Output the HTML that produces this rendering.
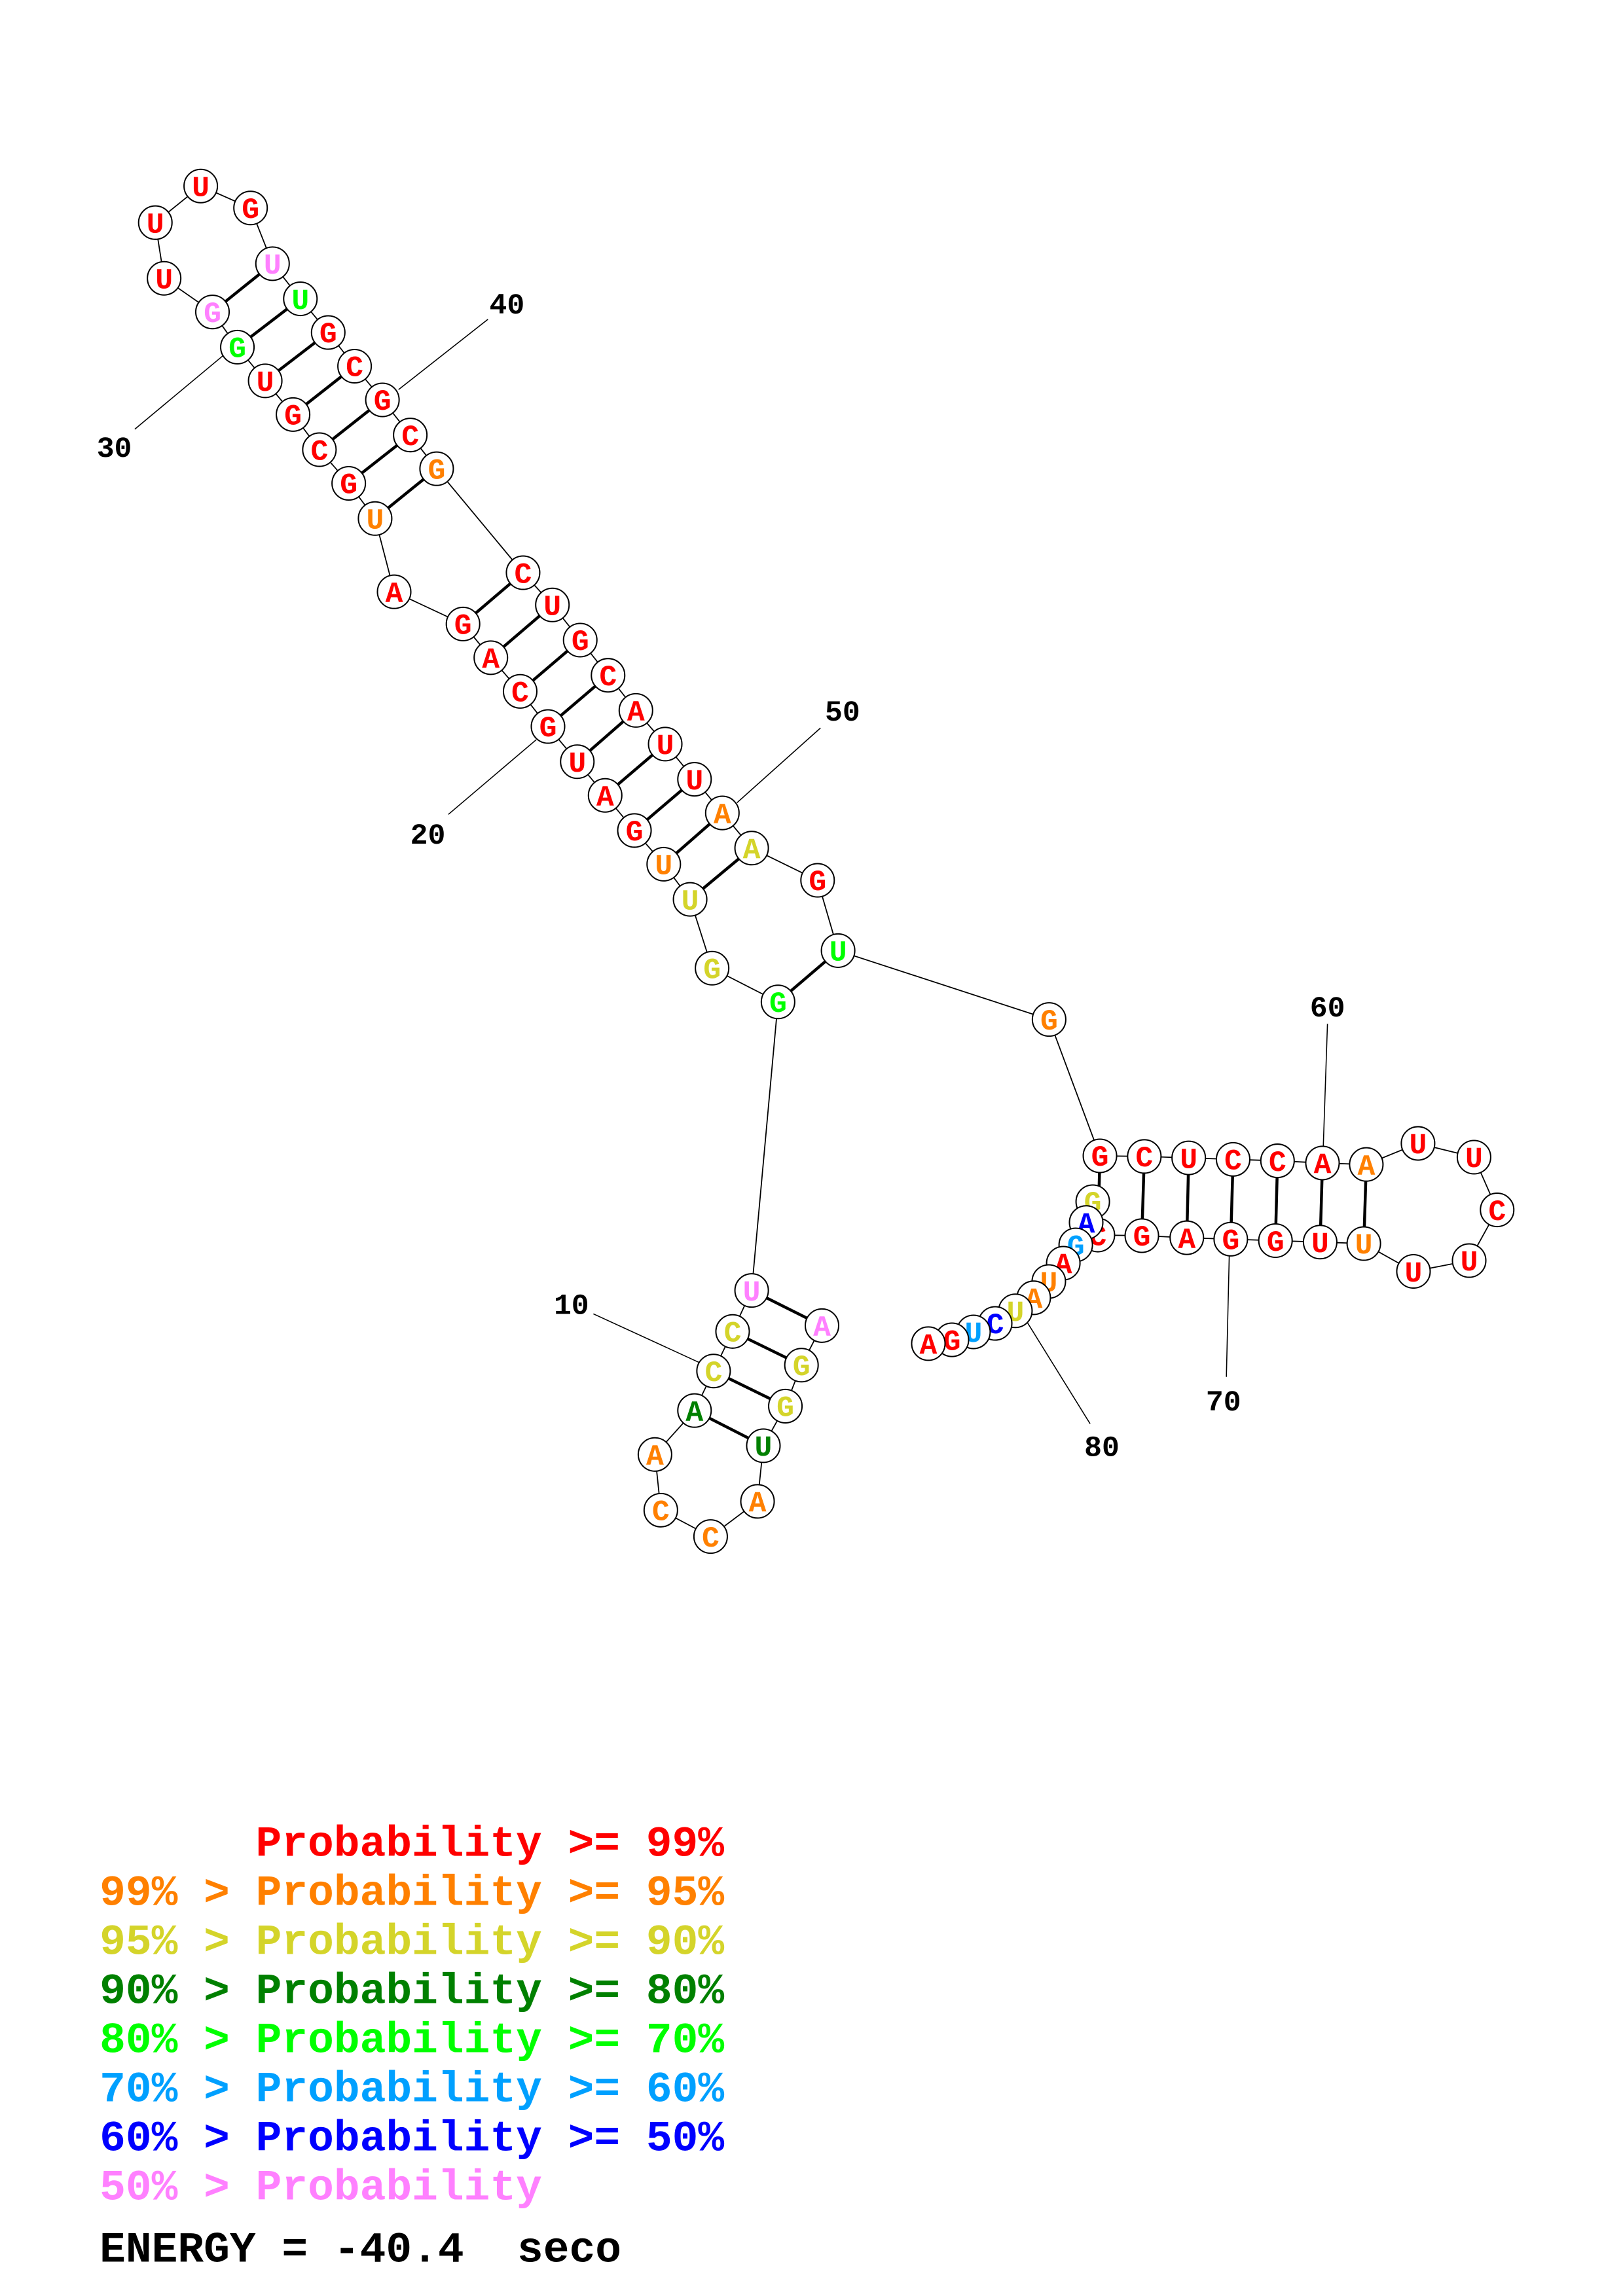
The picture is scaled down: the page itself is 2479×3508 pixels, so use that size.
<!DOCTYPE html>
<html><head><meta charset="utf-8"><style>
html,body{margin:0;padding:0;background:#fff}
svg{display:block}
.bb{fill:none;stroke:#000;stroke-width:0.8}
.pr{stroke:#000;stroke-width:2}
.lb{stroke:#000;stroke-width:0.7}
circle{fill:#fff;stroke:#000;stroke-width:0.9}
.n text{font-family:"Liberation Mono",monospace;font-weight:bold;font-size:20px;text-anchor:middle}
.num{font-family:"Liberation Mono",monospace;font-weight:bold;font-size:20px;text-anchor:middle;fill:#000}
.lg{font-family:"Liberation Mono",monospace;font-weight:bold;font-size:29.6px;white-space:pre}
</style></head><body>
<svg width="2479" height="3508" viewBox="0 0 1107.7 1567.5" xmlns="http://www.w3.org/2000/svg">
<rect width="1107.7" height="1567.5" fill="#fff"/>
<line class="lb" x1="272" y1="266" x2="333" y2="218"/>
<line class="lb" x1="92" y1="293" x2="152" y2="243"/>
<line class="lb" x1="306" y1="556" x2="366" y2="505"/>
<line class="lb" x1="560" y1="497" x2="503" y2="548"/>
<line class="lb" x1="405" y1="897" x2="479" y2="931"/>
<line class="lb" x1="906" y1="699" x2="903" y2="787"/>
<line class="lb" x1="837" y1="940" x2="839" y2="856"/>
<line class="lb" x1="744" y1="972" x2="700" y2="901"/>
<text class="num" x="346" y="214">40</text>
<text class="num" x="78" y="312">30</text>
<text class="num" x="292" y="576">20</text>
<text class="num" x="575" y="492">50</text>
<text class="num" x="390" y="897">10</text>
<text class="num" x="906" y="694">60</text>
<text class="num" x="835" y="963">70</text>
<text class="num" x="752" y="994">80</text>
<polyline class="bb" points="561,905 547,932 536,960 521,987 517,1025 485,1049 451,1031 447,993 474,963 487,936 500,909 513,881 531,684 486,661 471,614 453,590 433,567 413,543 394,520 374,496 355,472 335,449 316,426 269,404 256,354 238,330 218,307 200,283 181,260 162,237 145,213 112,190 106,152 137,127 171,142 186,180 205,204 224,227 242,250 261,273 280,297 298,320 357,391 377,413 396,437 415,461 434,485 454,508 474,532 493,555 513,579 558,601 572,649 716,696 750.7,789.1 781,789.5 811.3,790.5 841.6,791.5 871.9,792.5 902.6,794 932.5,795 967.8,780.6 1006,790 1021.8,826 1002.7,860.6 964.7,868 930.8,849 901,848 870.5,847 840,846 810,845 779.3,843.6 749.3,843.2 745.8,820.4 741.3,834.6 734.2,849.9 725.7,862.4 715.8,874.9 705.5,886 693,894.9 679.2,903.5 664.4,909.3 649.7,914.7 633.6,917.3"/>
<g class="pr">
<line x1="513" y1="881" x2="561" y2="905"/><line x1="500" y1="909" x2="547" y2="932"/><line x1="487" y1="936" x2="536" y2="960"/><line x1="474" y1="963" x2="521" y2="987"/>
<line x1="531" y1="684" x2="572" y2="649"/><line x1="471" y1="614" x2="513" y2="579"/><line x1="453" y1="590" x2="493" y2="555"/><line x1="433" y1="567" x2="474" y2="532"/><line x1="413" y1="543" x2="454" y2="508"/><line x1="394" y1="520" x2="434" y2="485"/><line x1="374" y1="496" x2="415" y2="461"/><line x1="355" y1="472" x2="396" y2="437"/><line x1="335" y1="449" x2="377" y2="413"/><line x1="316" y1="426" x2="357" y2="391"/>
<line x1="256" y1="354" x2="298" y2="320"/><line x1="238" y1="330" x2="280" y2="297"/><line x1="218" y1="307" x2="261" y2="273"/><line x1="200" y1="283" x2="242" y2="250"/><line x1="181" y1="260" x2="224" y2="227"/><line x1="162" y1="237" x2="205" y2="204"/><line x1="145" y1="213" x2="186" y2="180"/>
<line x1="750.7" y1="789.1" x2="749.3" y2="843.2"/><line x1="781" y1="789.5" x2="779.3" y2="843.6"/><line x1="811.3" y1="790.5" x2="810" y2="845"/><line x1="841.6" y1="791.5" x2="840" y2="846"/><line x1="871.9" y1="792.5" x2="870.5" y2="847"/><line x1="902.6" y1="794" x2="901" y2="848"/><line x1="932.5" y1="795" x2="930.8" y2="849"/>
</g>
<g class="n">
<g transform="translate(561,905)"><circle r="11.4"/><text y="6.8" fill="#ff80ff">A</text></g>
<g transform="translate(547,932)"><circle r="11.4"/><text y="6.8" fill="#d4d42a">G</text></g>
<g transform="translate(536,960)"><circle r="11.4"/><text y="6.8" fill="#d4d42a">G</text></g>
<g transform="translate(521,987)"><circle r="11.4"/><text y="6.8" fill="#008000">U</text></g>
<g transform="translate(517,1025)"><circle r="11.4"/><text y="6.8" fill="#ff8000">A</text></g>
<g transform="translate(485,1049)"><circle r="11.4"/><text y="6.8" fill="#ff8000">C</text></g>
<g transform="translate(451,1031)"><circle r="11.4"/><text y="6.8" fill="#ff8000">C</text></g>
<g transform="translate(447,993)"><circle r="11.4"/><text y="6.8" fill="#ff8000">A</text></g>
<g transform="translate(474,963)"><circle r="11.4"/><text y="6.8" fill="#008000">A</text></g>
<g transform="translate(487,936)"><circle r="11.4"/><text y="6.8" fill="#d4d42a">C</text></g>
<g transform="translate(500,909)"><circle r="11.4"/><text y="6.8" fill="#d4d42a">C</text></g>
<g transform="translate(513,881)"><circle r="11.4"/><text y="6.8" fill="#ff80ff">U</text></g>
<g transform="translate(531,684)"><circle r="11.4"/><text y="6.8" fill="#00ff00">G</text></g>
<g transform="translate(486,661)"><circle r="11.4"/><text y="6.8" fill="#d4d42a">G</text></g>
<g transform="translate(471,614)"><circle r="11.4"/><text y="6.8" fill="#d4d42a">U</text></g>
<g transform="translate(453,590)"><circle r="11.4"/><text y="6.8" fill="#ff8000">U</text></g>
<g transform="translate(433,567)"><circle r="11.4"/><text y="6.8" fill="#ff0000">G</text></g>
<g transform="translate(413,543)"><circle r="11.4"/><text y="6.8" fill="#ff0000">A</text></g>
<g transform="translate(394,520)"><circle r="11.4"/><text y="6.8" fill="#ff0000">U</text></g>
<g transform="translate(374,496)"><circle r="11.4"/><text y="6.8" fill="#ff0000">G</text></g>
<g transform="translate(355,472)"><circle r="11.4"/><text y="6.8" fill="#ff0000">C</text></g>
<g transform="translate(335,449)"><circle r="11.4"/><text y="6.8" fill="#ff0000">A</text></g>
<g transform="translate(316,426)"><circle r="11.4"/><text y="6.8" fill="#ff0000">G</text></g>
<g transform="translate(269,404)"><circle r="11.4"/><text y="6.8" fill="#ff0000">A</text></g>
<g transform="translate(256,354)"><circle r="11.4"/><text y="6.8" fill="#ff8000">U</text></g>
<g transform="translate(238,330)"><circle r="11.4"/><text y="6.8" fill="#ff0000">G</text></g>
<g transform="translate(218,307)"><circle r="11.4"/><text y="6.8" fill="#ff0000">C</text></g>
<g transform="translate(200,283)"><circle r="11.4"/><text y="6.8" fill="#ff0000">G</text></g>
<g transform="translate(181,260)"><circle r="11.4"/><text y="6.8" fill="#ff0000">U</text></g>
<g transform="translate(162,237)"><circle r="11.4"/><text y="6.8" fill="#00ff00">G</text></g>
<g transform="translate(145,213)"><circle r="11.4"/><text y="6.8" fill="#ff80ff">G</text></g>
<g transform="translate(112,190)"><circle r="11.4"/><text y="6.8" fill="#ff0000">U</text></g>
<g transform="translate(106,152)"><circle r="11.4"/><text y="6.8" fill="#ff0000">U</text></g>
<g transform="translate(137,127)"><circle r="11.4"/><text y="6.8" fill="#ff0000">U</text></g>
<g transform="translate(171,142)"><circle r="11.4"/><text y="6.8" fill="#ff0000">G</text></g>
<g transform="translate(186,180)"><circle r="11.4"/><text y="6.8" fill="#ff80ff">U</text></g>
<g transform="translate(205,204)"><circle r="11.4"/><text y="6.8" fill="#00ff00">U</text></g>
<g transform="translate(224,227)"><circle r="11.4"/><text y="6.8" fill="#ff0000">G</text></g>
<g transform="translate(242,250)"><circle r="11.4"/><text y="6.8" fill="#ff0000">C</text></g>
<g transform="translate(261,273)"><circle r="11.4"/><text y="6.8" fill="#ff0000">G</text></g>
<g transform="translate(280,297)"><circle r="11.4"/><text y="6.8" fill="#ff0000">C</text></g>
<g transform="translate(298,320)"><circle r="11.4"/><text y="6.8" fill="#ff8000">G</text></g>
<g transform="translate(357,391)"><circle r="11.4"/><text y="6.8" fill="#ff0000">C</text></g>
<g transform="translate(377,413)"><circle r="11.4"/><text y="6.8" fill="#ff0000">U</text></g>
<g transform="translate(396,437)"><circle r="11.4"/><text y="6.8" fill="#ff0000">G</text></g>
<g transform="translate(415,461)"><circle r="11.4"/><text y="6.8" fill="#ff0000">C</text></g>
<g transform="translate(434,485)"><circle r="11.4"/><text y="6.8" fill="#ff0000">A</text></g>
<g transform="translate(454,508)"><circle r="11.4"/><text y="6.8" fill="#ff0000">U</text></g>
<g transform="translate(474,532)"><circle r="11.4"/><text y="6.8" fill="#ff0000">U</text></g>
<g transform="translate(493,555)"><circle r="11.4"/><text y="6.8" fill="#ff8000">A</text></g>
<g transform="translate(513,579)"><circle r="11.4"/><text y="6.8" fill="#d4d42a">A</text></g>
<g transform="translate(558,601)"><circle r="11.4"/><text y="6.8" fill="#ff0000">G</text></g>
<g transform="translate(572,649)"><circle r="11.4"/><text y="6.8" fill="#00ff00">U</text></g>
<g transform="translate(716,696)"><circle r="11.4"/><text y="6.8" fill="#ff8000">G</text></g>
<g transform="translate(750.7,789.1)"><circle r="11.4"/><text y="6.8" fill="#ff0000">G</text></g>
<g transform="translate(781,789.5)"><circle r="11.4"/><text y="6.8" fill="#ff0000">C</text></g>
<g transform="translate(811.3,790.5)"><circle r="11.4"/><text y="6.8" fill="#ff0000">U</text></g>
<g transform="translate(841.6,791.5)"><circle r="11.4"/><text y="6.8" fill="#ff0000">C</text></g>
<g transform="translate(871.9,792.5)"><circle r="11.4"/><text y="6.8" fill="#ff0000">C</text></g>
<g transform="translate(902.6,794)"><circle r="11.4"/><text y="6.8" fill="#ff0000">A</text></g>
<g transform="translate(932.5,795)"><circle r="11.4"/><text y="6.8" fill="#ff8000">A</text></g>
<g transform="translate(967.8,780.6)"><circle r="11.4"/><text y="6.8" fill="#ff0000">U</text></g>
<g transform="translate(1006,790)"><circle r="11.4"/><text y="6.8" fill="#ff0000">U</text></g>
<g transform="translate(1021.8,826)"><circle r="11.4"/><text y="6.8" fill="#ff0000">C</text></g>
<g transform="translate(1002.7,860.6)"><circle r="11.4"/><text y="6.8" fill="#ff0000">U</text></g>
<g transform="translate(964.7,868)"><circle r="11.4"/><text y="6.8" fill="#ff0000">U</text></g>
<g transform="translate(930.8,849)"><circle r="11.4"/><text y="6.8" fill="#ff8000">U</text></g>
<g transform="translate(901,848)"><circle r="11.4"/><text y="6.8" fill="#ff0000">U</text></g>
<g transform="translate(870.5,847)"><circle r="11.4"/><text y="6.8" fill="#ff0000">G</text></g>
<g transform="translate(840,846)"><circle r="11.4"/><text y="6.8" fill="#ff0000">G</text></g>
<g transform="translate(810,845)"><circle r="11.4"/><text y="6.8" fill="#ff0000">A</text></g>
<g transform="translate(779.3,843.6)"><circle r="11.4"/><text y="6.8" fill="#ff0000">G</text></g>
<g transform="translate(749.3,843.2)"><circle r="11.4"/><text y="6.8" fill="#ff0000">C</text></g>
<g transform="translate(745.8,820.4)"><circle r="11.4"/><text y="6.8" fill="#d4d42a">G</text></g>
<g transform="translate(741.3,834.6)"><circle r="11.4"/><text y="6.8" fill="#0000ff">A</text></g>
<g transform="translate(734.2,849.9)"><circle r="11.4"/><text y="6.8" fill="#00a0ff">G</text></g>
<g transform="translate(725.7,862.4)"><circle r="11.4"/><text y="6.8" fill="#ff0000">A</text></g>
<g transform="translate(715.8,874.9)"><circle r="11.4"/><text y="6.8" fill="#ff8000">U</text></g>
<g transform="translate(705.5,886)"><circle r="11.4"/><text y="6.8" fill="#ff8000">A</text></g>
<g transform="translate(693,894.9)"><circle r="11.4"/><text y="6.8" fill="#d4d42a">U</text></g>
<g transform="translate(679.2,903.5)"><circle r="11.4"/><text y="6.8" fill="#0000ff">C</text></g>
<g transform="translate(664.4,909.3)"><circle r="11.4"/><text y="6.8" fill="#00a0ff">U</text></g>
<g transform="translate(649.7,914.7)"><circle r="11.4"/><text y="6.8" fill="#ff0000">G</text></g>
<g transform="translate(633.6,917.3)"><circle r="11.4"/><text y="6.8" fill="#ff0000">A</text></g>
</g>
<g class="lg">
<text x="174.5" y="1267" fill="#ff0000">Probability &gt;= 99%</text>
<text x="68" y="1300.5" fill="#ff8000">99% &gt; Probability &gt;= 95%</text>
<text x="68" y="1334" fill="#d4d42a">95% &gt; Probability &gt;= 90%</text>
<text x="68" y="1367.5" fill="#008000">90% &gt; Probability &gt;= 80%</text>
<text x="68" y="1401" fill="#00ff00">80% &gt; Probability &gt;= 70%</text>
<text x="68" y="1434.5" fill="#00a0ff">70% &gt; Probability &gt;= 60%</text>
<text x="68" y="1468" fill="#0000ff">60% &gt; Probability &gt;= 50%</text>
<text x="68" y="1501.5" fill="#ff80ff">50% &gt; Probability</text>
<text x="68" y="1544" fill="#000">ENERGY = -40.4<tspan x="353">seco</tspan></text>
</g>
</svg>
</body></html>
